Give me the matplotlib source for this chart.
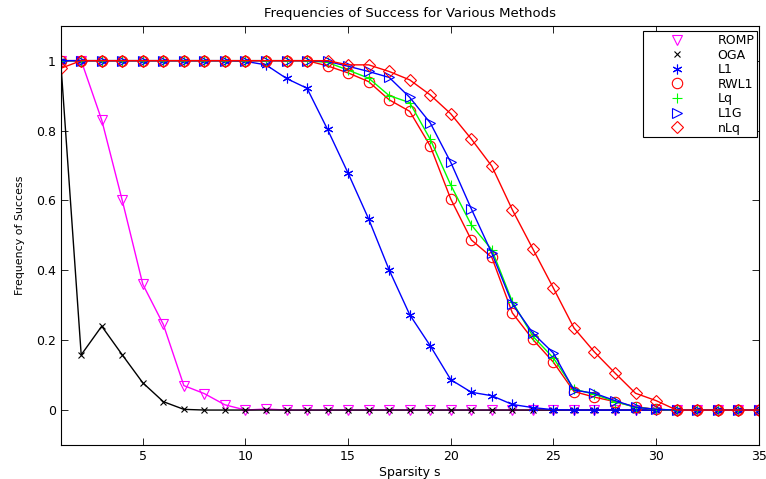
import matplotlib
matplotlib.use('Agg')
import matplotlib.pyplot as plt
from matplotlib.lines import Line2D

plt.rcParams['font.family'] = ['DejaVu Sans']

# sparsity levels
sparsity = list(range(1, 36))

# frequency of success per method
romp = [1.0, 1.0, 0.83, 0.60, 0.36, 0.245, 0.07, 0.047, 0.015, 0.0, 0.003] + [0.0] * 24
oga = [1.0, 0.158, 0.24, 0.158, 0.078, 0.024, 0.002] + [0.0] * 28
l1 = [1.0] * 9 + [0.998, 0.988, 0.949, 0.921, 0.803, 0.678, 0.547, 0.401, 0.273,
                  0.184, 0.087, 0.051, 0.041, 0.016, 0.007, 0.001] + [0.0] * 10
rwl1 = [1.0] * 13 + [0.985, 0.965, 0.94, 0.888, 0.855, 0.756, 0.604, 0.487, 0.437,
                     0.278, 0.202, 0.137, 0.053, 0.037, 0.024, 0.009, 0.002] + [0.0] * 5
lq = [1.0] * 13 + [0.995, 0.973, 0.95, 0.90, 0.88, 0.775, 0.644, 0.53, 0.459,
                   0.31, 0.211, 0.149, 0.06, 0.045, 0.024, 0.008, 0.002] + [0.0] * 5
l1g = [1.0] * 13 + [0.998, 0.984, 0.969, 0.952, 0.895, 0.822, 0.709, 0.576, 0.449,
                    0.304, 0.22, 0.163, 0.057, 0.048, 0.027, 0.008, 0.002] + [0.0] * 5
nlq = [0.978] + [1.0] * 13 + [0.988, 0.988, 0.969, 0.945, 0.902, 0.848, 0.776, 0.698,
                              0.573, 0.461, 0.349, 0.235, 0.166, 0.106, 0.048, 0.027] + [0.0] * 5

labels = ['ROMP', 'OGA', 'L1', 'RWL1', 'Lq', 'L1G', 'nLq']
series = [romp, oga, l1, rwl1, lq, l1g, nlq]
colors = ['#ff00ff', 'black', 'blue', 'red', '#00ff00', 'blue', 'red']
markers = ['v', 'x', (6, 2, 0), 'o', '+', '>', 'D']
msizes = [7.5, 5, 7, 7.5, 7.5, 7.5, 6]

fig = plt.figure(figsize=(7.66, 4.79), dpi=100)
ax = fig.add_axes([0.0792, 0.071, 0.9113, 0.8753])

handles = []
for y, lab, c, m, ms in zip(series, labels, colors, markers, msizes):
    ax.plot(sparsity, y, color=c, marker=m, markersize=ms, markerfacecolor='none',
            markeredgecolor=c, markeredgewidth=0.8, linewidth=1)
    handles.append(Line2D([], [], linestyle='none', marker=m, markersize=ms,
                          markerfacecolor='none', markeredgecolor=c,
                          markeredgewidth=0.8, label=lab))

ax.set_xlim(1, 35)
ax.set_ylim(-0.1, 1.1)
ax.set_xticks([5, 10, 15, 20, 25, 30, 35])
ax.set_yticks([0, 0.2, 0.4, 0.6, 0.8, 1])
ax.set_yticklabels(['0', '0.2', '0.4', '0.6', '0.8', '1'])
ax.tick_params(direction='in', length=5, width=0.6, top=True, right=True, labelsize=9)
for sp in ax.spines.values():
    sp.set_linewidth(0.8)

ax.set_title('Frequencies of Success for Various Methods', fontsize=9.5, pad=6)
ax.set_xlabel('Sparsity s', fontsize=9, labelpad=2)
ax.set_ylabel('Frequency of Success', fontsize=7.9, labelpad=8)

leg = ax.legend(handles=handles, loc='upper right', bbox_to_anchor=(0.9883, 0.935),
                bbox_transform=fig.transFigure, fontsize=9, frameon=True,
                fancybox=False, framealpha=1, edgecolor='black', handlelength=4.9,
                handletextpad=0.8, labelspacing=0.13, borderpad=0.22, borderaxespad=0)
leg.get_frame().set_linewidth(0.8)

fig.savefig('out.png', dpi=100)
